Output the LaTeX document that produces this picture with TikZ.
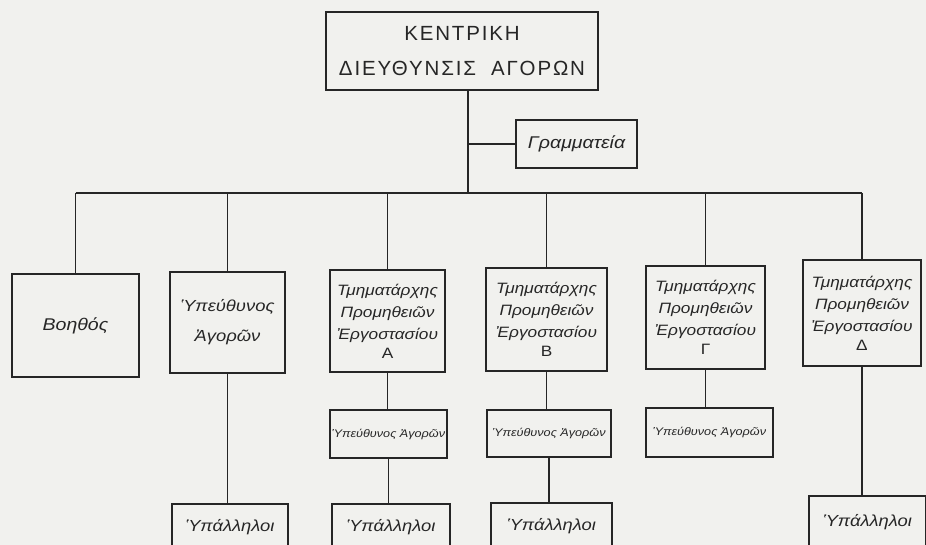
\documentclass[tikz,border=0pt]{standalone}
\usepackage{fontspec}
\setmainfont{Liberation Sans}
\newfontfamily\capsfont[LetterSpace=9]{Liberation Sans}
\newfontfamily\handfont[FakeStretch=1.15]{Liberation Sans}
\definecolor{paper}{HTML}{F1F1EE}
\definecolor{ink}{HTML}{262626}
\tikzset{
  box/.style={draw=ink, line width=1.6pt, rectangle, inner sep=1pt, align=center, text=ink},
  hand/.style={font=\handfont\itshape\fontsize{16}{30}\selectfont},
  dept/.style={font=\handfont\itshape\fontsize{15}{22}\selectfont},
  small/.style={font=\handfont\itshape\fontsize{11}{12}\selectfont},
  conn/.style={draw=ink, line width=1.6pt},
}
\begin{document}
\begin{tikzpicture}[x=1pt,y=-1pt]
\fill[paper] (0,0) rectangle (926,545);
\useasboundingbox (0,0) rectangle (926,545);
\clip (0,0) rectangle (926,545);
% top
\node[box, minimum width=272pt, minimum height=78pt, font=\capsfont\fontsize{20.5}{35}\selectfont] (top) at (462,51) {ΚΕΝΤΡΙΚΗ\\ΔΙΕΥΘΥΝΣΙΣ\ \ ΑΓΟΡΩΝ};
\node[box, hand, font=\handfont\itshape\fontsize{17}{20}\selectfont, minimum width=121pt, minimum height=48pt] (gram) at (576.5,144) {Γραμματεία};
% first row
\node[box, hand, font=\handfont\itshape\fontsize{17}{20}\selectfont, minimum width=127pt, minimum height=103pt] (b1) at (75.5,325.5) {Βοηθός};
\node[box, hand, minimum width=115pt, minimum height=101pt] (b2) at (227.5,322.5) {Ὑπεύθυνος\\Ἀγορῶν};
\node[box, dept, minimum width=115pt, minimum height=102pt] (b3) at (387.5,321) {Τμηματάρχης\\Προμηθειῶν\\Ἐργοστασίου\\[-3pt]{\upshape Α}};
\node[box, dept, minimum width=121pt, minimum height=103pt] (b4) at (546.5,319.5) {Τμηματάρχης\\Προμηθειῶν\\Ἐργοστασίου\\[-3pt]{\upshape Β}};
\node[box, dept, minimum width=119pt, minimum height=103pt] (b5) at (705.5,317.5) {Τμηματάρχης\\Προμηθειῶν\\Ἐργοστασίου\\[-3pt]{\upshape Γ}};
\node[box, dept, minimum width=118pt, minimum height=106pt] (b6) at (862,313) {Τμηματάρχης\\Προμηθειῶν\\Ἐργοστασίου\\[-3pt]{\upshape Δ}};
% second row
\node[box, small, minimum width=117pt, minimum height=48pt] (m3) at (388.5,434) {Ὑπεύθυνος Ἀγορῶν};
\node[box, small, minimum width=124pt, minimum height=47pt] (m4) at (549,433.5) {Ὑπεύθυνος Ἀγορῶν};
\node[box, small, minimum width=127pt, minimum height=49pt] (m5) at (709.5,432.5) {Ὑπεύθυνος Ἀγορῶν};
% third row
\node[box, hand, minimum width=116pt, minimum height=46pt, anchor=north] (e2) at (230,503) {Ὑπάλληλοι};
\node[box, hand, minimum width=118pt, minimum height=46pt, anchor=north] (e3) at (391,503) {Ὑπάλληλοι};
\node[box, hand, minimum width=121pt, minimum height=46pt, anchor=north] (e4) at (551.5,502) {Ὑπάλληλοι};
\node[box, hand, minimum width=117pt, minimum height=52pt, anchor=north] (e6) at (867.5,495) {Ὑπάλληλοι};
% connectors
\coordinate (bus) at (468,193);
\draw[conn] (bus |- top.south) -- (bus);
\draw[conn] (gram.west -| bus) -- (gram.west);
\draw[conn] (b1.north |- bus) -- (b6.north |- bus);
\foreach \n in {b1,b2,b3,b4,b5,b6} { \draw[conn] (\n.north |- bus) -- (\n.north); }
\draw[conn] (b2.south) -- (b2.south |- e2.north);
\draw[conn] (b3.south) -- (b3.south |- m3.north);
\draw[conn] (m3.south) -- (m3.south |- e3.north);
\draw[conn] (b4.south) -- (b4.south |- m4.north);
\draw[conn] (m4.south) -- (m4.south |- e4.north);
\draw[conn] (b5.south) -- (b5.south |- m5.north);
\draw[conn] (b6.south) -- (b6.south |- e6.north);
\end{tikzpicture}
\end{document}
